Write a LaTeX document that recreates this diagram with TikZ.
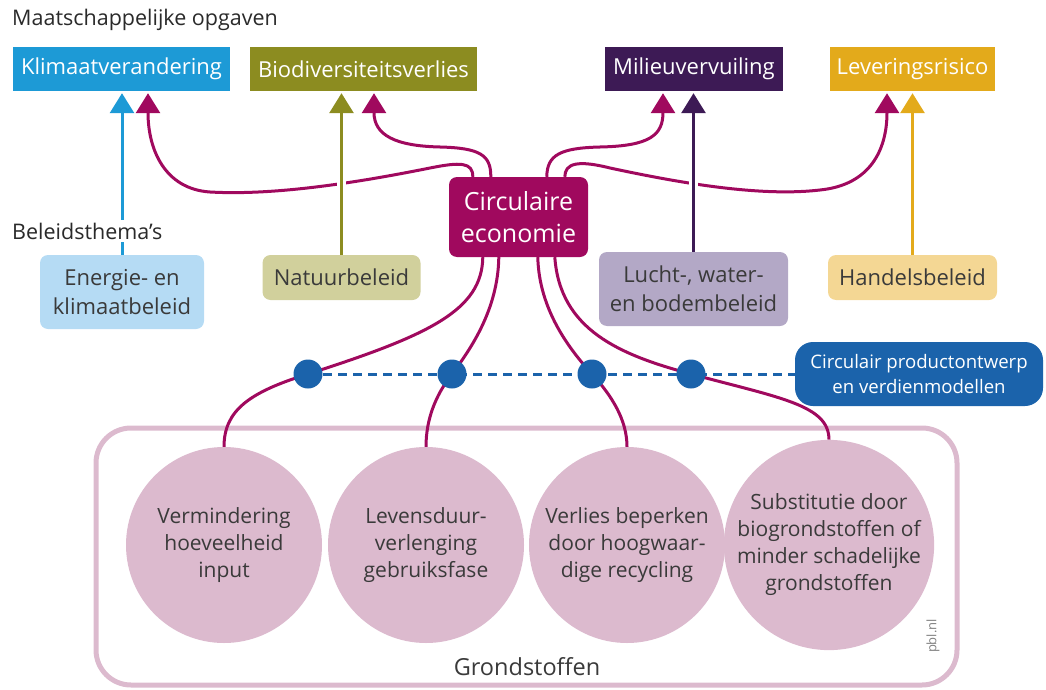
\documentclass[tikz,border=0pt]{standalone}
\usepackage{fontspec}
\setmainfont{Open Sans}
\usetikzlibrary{arrows.meta,calc}
\definecolor{klimc}{HTML}{1D9AD6}
\definecolor{bioc}{HTML}{8C8C20}
\definecolor{milc}{HTML}{3D1A55}
\definecolor{levc}{HTML}{E3AA1B}
\definecolor{mag}{HTML}{A0095E}
\definecolor{lklim}{HTML}{B5DBF4}
\definecolor{lbio}{HTML}{D1D09C}
\definecolor{lmil}{HTML}{B3A8C6}
\definecolor{llev}{HTML}{F4D794}
\definecolor{dotc}{HTML}{1B63AB}
\definecolor{pinkc}{HTML}{DCBACE}
\definecolor{textc}{HTML}{3A3A3A}
\definecolor{hdrc}{HTML}{2A2A2A}
\pgfdeclarelayer{bg}
\pgfdeclarelayer{mid}
\pgfsetlayers{bg,mid,main}
\tikzset{
  topbox/.style={rectangle, minimum height=44pt, inner sep=0pt, text=white, font=\fontsize{22}{26}\selectfont},
  polbox/.style={rectangle, rounded corners=8pt, inner sep=0pt, text=textc, align=center, font=\fontsize{22}{29}\selectfont},
  hdr/.style={anchor=west, text=hdrc, inner sep=3pt, font=\fontsize{21.5}{26}\selectfont},
  link/.style={draw=mag, line width=3pt},
  tipped/.style={-{Triangle[width=24pt,length=20pt]}},
  vline/.style={line width=3pt},
  halo/.style={draw=white, line width=9pt},
  bigcirc/.style={circle, fill=pinkc, minimum size=196pt, inner sep=0pt, align=center, text=textc, font=\fontsize{21}{27}\selectfont},
  dotnode/.style={circle, fill=dotc, minimum size=29pt, inner sep=0pt},
}
\begin{document}
\begin{tikzpicture}[x=1pt,y=-1pt]
\useasboundingbox (0,0) rectangle (1046,690);

% headers
\node[hdr] (h1) at (9,20) {Maatschappelijke opgaven};
\node[hdr, fill=white] (h2) at (9,231) {Beleidsthema’s};

% top boxes
\node[topbox, fill=klimc, minimum width=217pt] (klim) at (121.5,69) {Klimaatverandering};
\node[topbox, fill=bioc, minimum width=227pt] (bio) at (363.5,69) {Biodiversiteitsverlies};
\node[topbox, fill=milc, minimum width=178pt] (mil) at (694,69) {Milieuvervuiling};
\node[topbox, fill=levc, minimum width=165pt] (lev) at (912.5,69) {Leveringsrisico};

% policy boxes
\node[polbox, fill=lklim, minimum width=164pt, minimum height=74pt] (ene) at (122,292) {Energie- en\\klimaatbeleid};
\node[polbox, fill=lbio, minimum width=158pt, minimum height=45pt] (nat) at (341.5,277.5) {Natuurbeleid};
\node[polbox, fill=lmil, minimum width=189pt, minimum height=74pt] (luc) at (693.5,289) {Lucht-, water-\\en bodembeleid};
\node[polbox, fill=llev, minimum width=169pt, minimum height=45pt] (han) at (912.5,277.5) {Handelsbeleid};

% circular economy
\node[rectangle, rounded corners=8pt, fill=mag, text=white, minimum width=139pt, minimum height=80pt, inner sep=0pt, align=center, font=\fontsize{25}{32}\selectfont] (ce) at (518.5,217) {Circulaire\\economie};

% product design box
\node[rectangle, rounded corners=18pt, fill=dotc, text=white, minimum width=248pt, minimum height=64pt, inner sep=0pt, align=center, font=\fontsize{18.6}{25}\selectfont] (cpo) at (919,374) {Circulair productontwerp\\en verdienmodellen};

% dots
\node[dotnode] (d1) at (308,374) {};
\node[dotnode] (d2) at (452,374) {};
\node[dotnode] (d3) at (592,374) {};
\node[dotnode] (d4) at (691,374) {};

% circles
\node[bigcirc] (c1) at (224,545) {Vermindering\\hoeveelheid\\input};
\node[bigcirc] (c2) at (426,545) {Levensduur-\\verlenging\\gebruiksfase};
\node[bigcirc] (c3) at (627,545) {Verlies beperken\\door hoogwaar-\\dige recycling};
\node[bigcirc] (c4) at (829,545) {Substitutie door\\biogrondstoffen of\\minder schadelijke\\grondstoffen};

\node[text=textc, font=\fontsize{23.5}{28}\selectfont] (gr) at (527,667) {Grondstoffen};
\node[rotate=90, text=gray, font=\fontsize{13}{15}\selectfont] (pbl) at (933,636) {pbl.nl};

\begin{pgfonlayer}{bg}
\node[draw=pinkc, line width=5pt, rounded corners=35pt, minimum width=861pt, minimum height=257pt, inner sep=0pt] (grond) at (526.5,556.5) {};
\end{pgfonlayer}

\begin{pgfonlayer}{mid}
% curves from circular economy to top boxes
\draw[link, tipped] ($(ce.north west)+(24,0)$) .. controls (473,162) and (460,162) .. (430,168)
  .. controls (370,180) and (280,196) .. (210,192)
  .. controls (165,189) and (148,150) .. ($(klim.south)+(26.5,2)$);
\draw[link, tipped] ($(ce.north west)+(42,0)$) .. controls (491,155) and (480,148) .. (440,147)
  .. controls (395,146) and (374,135) .. ($(bio.south)+(10.5,2)$);
\draw[link, tipped] ($(ce.north west)+(98,0)$) .. controls (547,155) and (560,148) .. (600,147)
  .. controls (650,146) and (663,135) .. ($(mil.south)+(-31,2)$);
\draw[link, tipped] ($(ce.north west)+(116,0)$) .. controls (565,163) and (578,160) .. (610,168)
  .. controls (680,183) and (760,197) .. (820,190)
  .. controls (870,185) and (887,150) .. ($(lev.south)+(-25.5,2)$);

% vertical policy lines
\draw[vline, klimc, tipped] (ene.north) -- ($(ene.north |- klim.south)+(0,2)$);
\draw[halo] ($(nat.north)+(0,-30)$) -- ($(nat.north |- bio.south)+(0,25)$);
\draw[vline, bioc, tipped] (nat.north) -- ($(nat.north |- bio.south)+(0,2)$);
\draw[halo] ($(luc.north)+(0,-30)$) -- ($(luc.north |- mil.south)+(0,25)$);
\draw[vline, milc, tipped] (luc.north) -- ($(luc.north |- mil.south)+(0,2)$);
\draw[vline, levc, tipped] (han.north) -- ($(han.north |- lev.south)+(0,2)$);

% dashed line
\draw[dotc, line width=3pt, dash pattern=on 9pt off 6pt] (d1.center) -- (cpo.west);

% curves from circular economy down to circles
\draw[link] ($(ce.south west)+(34,0)$) .. controls (482,310) and (430,335) .. (d1.center)
  .. controls (250,392) and (224,410) .. (c1.north);
\draw[link] ($(ce.south west)+(50,0)$) .. controls (498,310) and (470,350) .. (d2.center)
  .. controls (435,396) and (426,420) .. (c2.north);
\draw[link] ($(ce.south west)+(89,0)$) .. controls (539,310) and (570,350) .. (d3.center)
  .. controls (612,396) and (627,420) .. (c3.north);
\draw[link] ($(ce.south west)+(106,0)$) .. controls (560,330) and (620,355) .. (d4.center)
  .. controls (780,398) and (829,405) .. (c4.north);
\end{pgfonlayer}
\end{tikzpicture}
\end{document}
